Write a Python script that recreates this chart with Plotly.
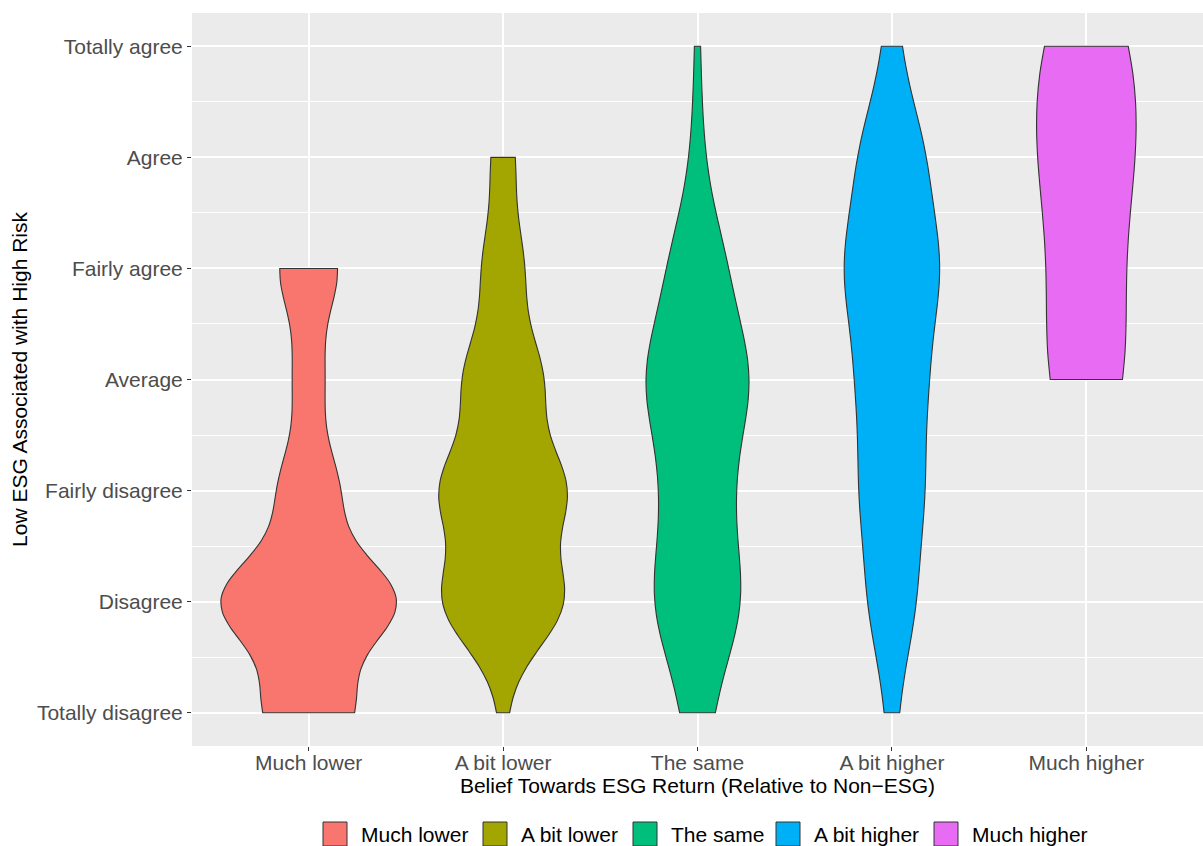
import numpy as np
import plotly.graph_objects as go

# Response scale (y) and belief groups (x)
levels = ["Totally disagree", "Disagree", "Fairly disagree", "Average",
          "Fairly agree", "Agree", "Totally agree"]
groups = ["Much lower", "A bit lower", "The same", "A bit higher", "Much higher"]
colors = ["#F8766D", "#A3A500", "#00BF7D", "#00B0F6", "#E76BF3"]

# Number of respondents giving each response level, per belief group
counts_much_lower = [3, 6, 2, 1, 2, 0, 0]
counts_a_bit_lower = [2, 36, 37, 23, 12, 7, 0]
counts_the_same = [5, 16, 11, 19, 10, 2, 1]
counts_a_bit_higher = [3, 13, 17, 18, 26, 18, 4]
counts_much_higher = [0, 0, 0, 2, 1, 2, 2]

group_counts = [counts_much_lower, counts_a_bit_lower, counts_the_same,
                counts_a_bit_higher, counts_much_higher]

scores = np.arange(1, len(levels) + 1)


def bw_nrd0(x):
    """Silverman's rule of thumb, as used by R's density()."""
    x = np.asarray(x, float)
    sd = x.std(ddof=1)
    q25, q75 = np.percentile(x, [25, 75])
    lo = min(sd, (q75 - q25) / 1.34)
    if lo <= 0:
        lo = sd if sd > 0 else 1.0
    return 0.9 * lo * len(x) ** -0.2


def kde_peak(x, h):
    grid = np.linspace(x.min(), x.max(), 512)
    d = np.exp(-0.5 * ((grid[:, None] - x[None, :]) / h) ** 2).sum(1)
    return (d / (len(x) * h * np.sqrt(2 * np.pi))).max()


samples = [np.repeat(scores, c).astype(float) for c in group_counts]
bandwidths = [bw_nrd0(s) for s in samples]
peaks = [kde_peak(s, h) for s, h in zip(samples, bandwidths)]
# equal-area scaling: the densest violin spans 0.9 of a category slot
widths = [0.9 * p / max(peaks) for p in peaks]

fig = go.Figure()
for name, col, s, h, w in zip(groups, colors, samples, bandwidths, widths):
    fig.add_trace(go.Violin(
        x=[name] * len(s), y=s, name=name, orientation="v",
        bandwidth=h, spanmode="hard", scalemode="width", width=w,
        points=False, fillcolor=col, opacity=1,
        line=dict(color="#333333", width=1.1),
        showlegend=False, hoverinfo="skip",
    ))

FONT = "Liberation Sans, Arial, Helvetica, sans-serif"
L, R, T, B = 192, 0, 13, 100
W, H = 1203, 846
pw, ph = W - L - R, H - T - B


def px_x(x):
    return (x - L) / pw


def px_y(y):
    return (H - B - y) / ph


# legend drawn below the panel
key_left = [323, 483, 633, 776, 934]
key_size = 24
key_mid = 834
shapes, annotations = [], []
for name, col, kx in zip(groups, colors, key_left):
    shapes.append(dict(type="rect", xref="paper", yref="paper",
                       x0=px_x(kx), x1=px_x(kx + key_size),
                       y0=px_y(key_mid + key_size / 2), y1=px_y(key_mid - key_size / 2),
                       fillcolor=col, line=dict(color="#333333", width=1)))
    annotations.append(dict(text=name, xref="paper", yref="paper",
                            x=px_x(kx + key_size + 12), y=px_y(key_mid),
                            xanchor="left", yanchor="middle", showarrow=False,
                            font=dict(family=FONT, size=21, color="black")))

fig.update_layout(
    width=W, height=H, margin=dict(l=L, r=R, t=T, b=B, pad=0),
    plot_bgcolor="#EBEBEB", paper_bgcolor="white",
    violinmode="overlay", showlegend=False,
    font=dict(family=FONT, size=21, color="#4D4D4D"),
    shapes=shapes, annotations=annotations,
)
fig.update_xaxes(
    categoryorder="array", categoryarray=groups, range=[-0.6, len(groups) - 0.4],
    showgrid=True, gridcolor="white", gridwidth=1.6, zeroline=False, showline=False,
    ticks="outside", ticklen=4, tickwidth=1.1, tickcolor="#333333",
    ticklabelstandoff=-6,
    tickfont=dict(family=FONT, size=21, color="#4D4D4D"),
    title=dict(text="Belief Towards ESG Return (Relative to Non\u2212ESG)",
               font=dict(family=FONT, size=21, color="black"), standoff=2),
)
fig.update_yaxes(
    range=[0.7, 7.3], tickmode="array", tickvals=list(scores), ticktext=levels,
    showgrid=True, gridcolor="white", gridwidth=1.6, zeroline=False, showline=False,
    ticks="outside", ticklen=4, tickwidth=1.1, tickcolor="#333333",
    tickfont=dict(family=FONT, size=21, color="#4D4D4D"),
    minor=dict(tickmode="array", tickvals=list(scores[:-1] + 0.5), showgrid=True,
               gridcolor="white", gridwidth=0.8, ticks=""),
    title=dict(text="Low ESG Associated with High Risk",
               font=dict(family=FONT, size=21, color="black"), standoff=3),
)

fig.write_html("out.html")
